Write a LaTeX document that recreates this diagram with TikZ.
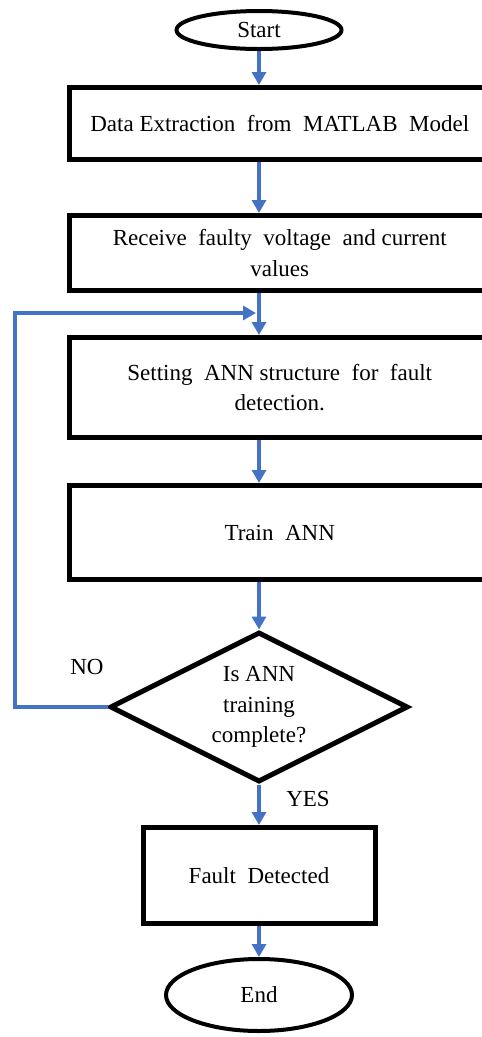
\documentclass[tikz,border=0pt]{standalone}
\usepackage{fontspec}
\setmainfont{Liberation Serif}
\usetikzlibrary{shapes.geometric,arrows.meta,calc}
\definecolor{flowblue}{HTML}{4472C4}
\newcommand{\wsp}{\hspace{0.5em}}
\begin{document}
\begin{tikzpicture}[x=1pt,y=-1pt,
  txt/.style={font=\fontsize{23}{30.5}\selectfont},
  procbox/.style={txt,draw=black,line width=5pt,minimum width=420pt,inner sep=0pt,align=center},
  terminal/.style={txt,draw=black,line width=4pt,ellipse,inner sep=0pt},
  decision/.style={txt,draw=black,line width=5pt,diamond,aspect=2,inner sep=0pt,
    minimum width=298pt,minimum height=150pt,align=center},
  flow/.style={draw=flowblue,line width=4pt,-{Triangle[width=14pt,length=13pt]}},
  lbl/.style={txt,inner sep=0pt}
]
\useasboundingbox (0,0) rectangle (482,1037);
\clip (0,0) rectangle (482,1037);

% terminals, process boxes and decision
\node[terminal,minimum width=165pt,minimum height=38pt] (start) at (259,30) {Start};
\node[procbox,minimum height=72pt] (extract) at (279.75,123.5)
  {Data Extraction\wsp from\wsp MATLAB\wsp Model};
\node[procbox,minimum height=75pt] (receive) at (279.75,253)
  {Receive\wsp faulty\wsp voltage\wsp and current\\values};
\node[procbox,minimum height=100pt] (setup) at (279.75,387.5)
  {Setting\wsp ANN structure\wsp for\wsp fault\\detection.};
\node[procbox,minimum height=94pt] (train) at (279.75,532.5) {Train\wsp ANN};
\node[decision] (check) at (259,707) {Is ANN\\training\\complete?};
\node[procbox,minimum width=232pt,minimum height=96pt] (detected) at (259,875.5)
  {Fault\wsp Detected};
\node[terminal,minimum width=186pt,minimum height=72pt] (finish) at (259,995) {End};

% branch labels
\node[lbl] (no) at (87,667) {NO};
\node[lbl] (yes) at (308,799) {YES};

% main flow
\draw[flow] (start.south) -- (start.south |- extract.north);
\draw[flow] (start.south |- extract.south) -- (start.south |- receive.north);
\draw[flow] (start.south |- receive.south) -- (start.south |- setup.north);
\draw[flow] (start.south |- setup.south) -- (start.south |- train.north);
\draw[flow] (start.south |- train.south) -- (check.north);
\draw[flow] (check.south) -- (detected.north);
\draw[flow] (detected.south) -- (finish.north);

% retraining loop
\coordinate (loopin) at (256,313);
\draw[flow] (check.west) -- (15,707) -- (15,313) -- (loopin);
\end{tikzpicture}
\end{document}
